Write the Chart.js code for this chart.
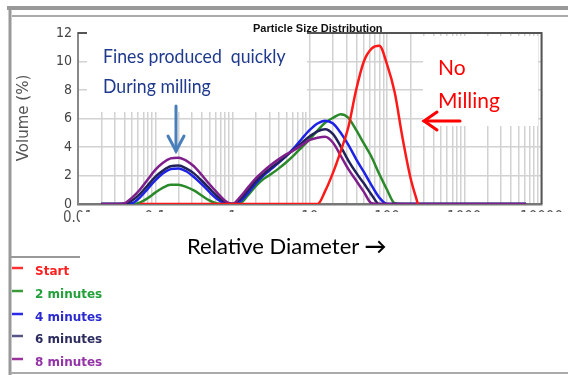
<!DOCTYPE html>
<html>
<head>
<meta charset="utf-8">
<script src="https://cdn.jsdelivr.net/npm/chart.js@4"></script>
<style>
  body { margin: 0; background: #fff; }
  #wrap { position: relative; width: 568px; height: 375px; overflow: hidden; background: #fff; }
  #chart { position: absolute; left: 0; top: 0; }
  .cover { position: absolute; background: #fff; }
  .txt { position: absolute; white-space: pre; }
  .narrow { transform: scaleX(0.93); transform-origin: left center; }
  svg { position: absolute; left: 0; top: 0; }
  .legend-item { position: absolute; left: 35px; font: bold 12px 'DejaVu Sans', sans-serif; line-height: 14px; }
</style>
</head>
<body>
<div id="wrap">
  <canvas id="chart" width="568" height="375"></canvas>

  <!-- white panels laid over the plot -->
  <div class="cover" style="left:87px; top:32px; width:220px; height:80px;"></div>
  <div class="cover" style="left:423px; top:36px; width:115px; height:90px;"></div>
  <div class="cover" style="left:80px; top:212px; width:483px; height:160px;"></div>

  <svg width="568" height="375">
    <!-- window frame -->
    <line x1="7" y1="8" x2="568" y2="8" stroke="#999" stroke-width="4"/>
    <line x1="12" y1="16" x2="568" y2="16" stroke="#aaa" stroke-width="2"/>
    <line x1="10" y1="6" x2="10" y2="375" stroke="#999" stroke-width="3"/>
    <line x1="10" y1="373" x2="568" y2="373" stroke="#aaa" stroke-width="2"/>
    <line x1="10" y1="257" x2="80" y2="257" stroke="#999" stroke-width="2"/>
    <!-- arrows -->
    <g stroke="#4a7ebb" stroke-width="3" fill="none" stroke-linecap="round">
      <line x1="176" y1="106" x2="176" y2="151"/>
      <polyline points="168,136 176,151 184,136"/>
    </g>
    <g stroke="#ff0000" stroke-width="3" fill="none" stroke-linecap="round">
      <line x1="424" y1="121" x2="460" y2="121"/>
      <polyline points="437,112 424,121 437,130"/>
    </g>
    <g id="legendLines" stroke-width="2.5"></g>
  </svg>

  <div class="txt" style="left:253px; top:22px; font:bold 11px 'Liberation Sans', Arial, sans-serif; color:#111;">Particle Size Distribution</div>
  <div class="txt narrow" style="left:103px; top:46px; font:19px Lato, sans-serif; line-height:19px; color:#1f3a8c;">Fines produced  quickly</div>
  <div class="txt narrow" style="left:103px; top:76px; font:19px Lato, sans-serif; line-height:19px; color:#1f3a8c;">During milling</div>
  <div class="txt" style="left:438px; top:56px; font:21px Lato, sans-serif; line-height:21px; color:#ff0000;">No</div>
  <div class="txt" style="left:438px; top:89px; font:21px Lato, sans-serif; line-height:21px; color:#ff0000;">Milling</div>
  <div class="txt" style="left:187px; top:235px; font:22px Lato, sans-serif; line-height:22px; color:#000;">Relative Diameter <b>→</b></div>
  <div class="txt" style="left:23px; top:118px; font:15px 'DejaVu Sans', sans-serif; color:#555; transform:translate(-50%,-50%) rotate(-90deg);">Volume (%)</div>
  <div id="legend"></div>
</div>

<script>
// size bins (µm), ten per decade
const diameters = [
  0.02, 0.025, 0.0316, 0.0398, 0.0501, 0.0631, 0.0794,
  0.1, 0.126, 0.158, 0.2, 0.251, 0.316, 0.398, 0.501, 0.631, 0.794,
  1, 1.26, 1.58, 2, 2.51, 3.16, 3.98, 5.01, 6.31, 7.94,
  10, 12.6, 15.8, 20, 25.1, 31.6, 39.8, 50.1, 63.1, 79.4,
  100, 126, 158, 200, 251, 316, 398, 501, 631, 794,
  1000, 1260, 1580, 2000, 2510, 3160, 3980, 5010, 6310
];

const seriesNames = ['Start', '2 minutes', '4 minutes', '6 minutes', '8 minutes'];

// volume (%) per bin
const startVol = [
  null, null, null, null, null, 0, 0,
  0, 0, 0, 0, 0, 0, 0, 0, 0, 0,
  0, 0, 0, 0, 0, 0, 0, 0, 0, 0,
  0, 0, 0.9, 2.2, 3.7, 5.4, 8.0, 10.0, 10.9, 11.1,
  9.8, 7.8, 4.7, 1.9, 0, null, null, null, null, null,
  null, null, null, null, null, null, null, null, null
];
const min2Vol = [
  0, 0, 0, 0, 0, 0.1, 0.4,
  0.8, 1.15, 1.35, 1.35, 1.2, 0.95, 0.6, 0.25, 0.03, 0,
  0, 0.05, 0.6, 1.25, 1.75, 2.1, 2.5, 2.95, 3.45, 4.0,
  4.55, 5.15, 5.7, 6.05, 6.3, 6.05, 5.2, 4.25, 3.3, 2.1,
  1.0, 0.05, 0, 0, 0, 0, 0, 0, 0, 0,
  0, 0, 0, 0, 0, 0, 0, 0, 0
];
const min4Vol = [
  0, 0, 0, 0, 0.05, 0.45, 1.05,
  1.65, 2.15, 2.45, 2.5, 2.3, 1.9, 1.4, 0.85, 0.35, 0.05,
  0, 0.2, 0.75, 1.45, 2.0, 2.45, 2.9, 3.4, 3.95, 4.6,
  5.2, 5.65, 5.85, 5.65, 5.0, 4.15, 3.15, 2.25, 1.3, 0.45,
  0, 0, 0, 0, 0, 0, 0, 0, 0, 0,
  0, 0, 0, 0, 0, 0, 0, 0, 0
];
const min6Vol = [
  0, 0, 0, 0, 0.25, 0.7, 1.3,
  1.9, 2.35, 2.65, 2.7, 2.5, 2.15, 1.65, 1.1, 0.55, 0.15,
  0, 0.35, 0.95, 1.6, 2.1, 2.55, 2.95, 3.4, 3.85, 4.3,
  4.75, 5.1, 5.25, 4.9, 4.05, 3.05, 2.2, 1.45, 0.65, 0,
  0, 0, 0, 0, 0, 0, 0, 0, 0, 0,
  0, 0, 0, 0, 0, 0, 0, 0, 0
];
const min8Vol = [
  0, 0, 0, 0.05, 0.45, 1.0, 1.7,
  2.4, 2.9, 3.2, 3.25, 3.05, 2.65, 2.05, 1.4, 0.8, 0.25,
  0, 0.5, 1.15, 1.8, 2.3, 2.75, 3.15, 3.5, 3.8, 4.15,
  4.5, 4.65, 4.72, 4.3, 3.4, 2.45, 1.65, 0.85, 0.05, 0,
  0, 0, 0, 0, 0, 0, 0, 0, 0, 0,
  0, 0, 0, 0, 0, 0, 0, 0, 0
];

const decadeTicks = [0.01, 0.1, 1, 10, 100, 1000, 10000];
const volumeTicks = [0, 2, 4, 6, 8, 10, 12];

const lineColors = ['#ff1a1a', '#2a8a2a', '#1e22e6', '#22225a', '#7f1f8c'];
const legendText = ['#ff2020', '#22a03a', '#2a2ad0', '#2c2c5e', '#9433a8'];
const legendLine = ['#ff3030', '#3a9a3a', '#2a2ae8', '#55558a', '#993399'];
const drawOrder = [0, 4, 3, 2, 1];

const allSeries = [startVol, min2Vol, min4Vol, min6Vol, min8Vol];

const toPoints = vals => diameters.map((d, i) => ({ x: d, y: vals[i] }));

// top and right edges of the plot box
const plotFrame = {
  id: 'plotFrame',
  beforeDatasetsDraw(chart) {
    const { ctx, chartArea: a } = chart;
    ctx.save();
    ctx.strokeStyle = '#555';
    ctx.lineWidth = 2;
    ctx.beginPath();
    ctx.moveTo(a.left, a.top);
    ctx.lineTo(a.right, a.top);
    ctx.lineTo(a.right, a.bottom);
    ctx.stroke();
    ctx.restore();
  }
};

new Chart(document.getElementById('chart'), {
  type: 'line',
  data: {
    datasets: allSeries.map((vals, i) => ({
      label: seriesNames[i],
      data: toPoints(vals),
      borderColor: lineColors[i],
      borderWidth: 2.5,
      pointRadius: 0,
      cubicInterpolationMode: 'monotone',
      spanGaps: false,
      order: drawOrder[i]
    }))
  },
  options: {
    responsive: false,
    animation: false,
    layout: { padding: { left: 38, right: 15, top: 33, bottom: 151 } },
    scales: {
      x: {
        type: 'logarithmic',
        min: 0.01,
        max: 10000,
        afterBuildTicks: scale => {
          const ticks = [];
          decadeTicks.forEach((d, i) => {
            const steps = i < decadeTicks.length - 1 ? 9 : 1;
            for (let k = 1; k <= steps; k++) ticks.push({ value: d * k });
          });
          scale.ticks = ticks;
        },
        afterFit: scale => { scale.height = 20; },
        grid: { color: '#d2d2d2', lineWidth: 1.5, drawTicks: false },
        border: { color: '#777', width: 2.5 },
        ticks: {
          autoSkip: false,
          maxRotation: 0,
          padding: 5,
          color: '#555',
          font: { family: "'Liberation Sans Narrow', 'DejaVu Sans Condensed', sans-serif", size: 15 },
          callback: v => decadeTicks.includes(v) ? String(v) : ''
        }
      },
      y: {
        min: 0,
        max: 12,
        afterBuildTicks: scale => { scale.ticks = volumeTicks.map(v => ({ value: v })); },
        afterFit: scale => { scale.width = 40; },
        grid: { color: '#d2d2d2', lineWidth: 1.5, drawTicks: false },
        border: { color: '#888', width: 2 },
        ticks: {
          padding: 6,
          color: '#444',
          font: { family: "'Liberation Sans Narrow', 'DejaVu Sans Condensed', sans-serif", size: 14 }
        }
      }
    },
    plugins: {
      legend: { display: false },
      tooltip: { enabled: false }
    }
  },
  plugins: [plotFrame]
});

// legend block in the lower left corner
const legendRows = [271, 294, 317, 339, 362];
const legendDiv = document.getElementById('legend');
const lines = document.getElementById('legendLines');
seriesNames.forEach((name, i) => {
  const item = document.createElement('div');
  item.className = 'legend-item';
  item.style.top = (legendRows[i] - 7) + 'px';
  item.style.color = legendText[i];
  item.textContent = name;
  legendDiv.appendChild(item);

  const ln = document.createElementNS('http://www.w3.org/2000/svg', 'line');
  ln.setAttribute('x1', 12);
  ln.setAttribute('x2', 23);
  ln.setAttribute('y1', legendRows[i] - 3);
  ln.setAttribute('y2', legendRows[i] - 3);
  ln.setAttribute('stroke', legendLine[i]);
  lines.appendChild(ln);
});
</script>
</body>
</html>
